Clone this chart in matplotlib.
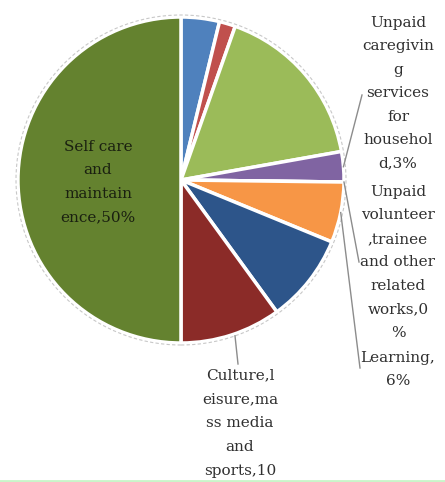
import numpy as np
import matplotlib.pyplot as plt

# time-use shares, clockwise from 12 o'clock
categories = ["Paid work", "Travel", "Household maintenance",
              "Unpaid caregiving services for household",
              "Unpaid volunteer, trainee and other related works",
              "Learning", "Social and cultural activities",
              "Culture, leisure, mass media and sports",
              "Self care and maintainence"]
values = [3.8, 1.6, 16.8, 3, 0, 6, 8.8, 10, 50]
colors = ["#4F81BD", "#C0504D", "#9BBB59", "#8064A2", "#4BACC6",
          "#F79646", "#2D558A", "#8B2B28", "#64822F"]

# data labels as they are wrapped on the chart
label_text = {
    3: "Unpaid\ncaregivin\ng\nservices\nfor\nhousehol\nd,3%",
    4: "Unpaid\nvolunteer\n,trainee\nand other\nrelated\nworks,0\n%",
    5: "Learning,\n6%",
    7: "Culture,l\neisure,ma\nss media\nand\nsports,10",
    8: "Self care\nand\nmaintain\nence,50%",
}

W, H = 445, 482
fig = plt.figure(figsize=(W / 100, H / 100), dpi=100)
ax = fig.add_axes([0, 0, 1, 1])

cx, cy, r = 181, H - 180, 163
explode = [0] * 8 + [4 / r]
wedges, _ = ax.pie(values, colors=colors, startangle=90, counterclock=False,
                   center=(cx, cy), radius=r, explode=explode,
                   wedgeprops=dict(edgecolor="white", linewidth=2.5))
ax.set_xlim(0, W)
ax.set_ylim(0, H)
ax.set_aspect("equal")
ax.axis("off")

# faint outline round the pie
ax.add_patch(plt.Circle((cx, cy), r + 2, fill=False, ec="#c8c8c8",
                        lw=0.8, ls=(0, (3, 2))))

font = dict(family="DejaVu Serif", fontsize=11, linespacing=1.86,
            ha="center", color="#303030")


def edge_point(i, frac=1.0):
    w = wedges[i]
    ang = np.deg2rad((w.theta1 + w.theta2) / 2)
    return cx + frac * r * np.cos(ang), cy + frac * r * np.sin(ang)


ax.text(98, H - 182, label_text[8], va="center",
        **{**font, "color": "#1a2010"})

ax.text(398, H - 16, label_text[3], va="top", **font)
ax.text(398, H - 185, label_text[4], va="top", **font)
ax.text(398, H - 351, label_text[5], va="top", **font)
ax.text(240, H - 368, label_text[7], va="top",
        **{**font, "linespacing": 1.9})

# leader lines from the labels to their slices
for i, (lx, ly) in {3: (362, H - 95), 4: (359, H - 262),
                    5: (360, H - 368)}.items():
    px, py = edge_point(i)
    ax.plot([lx, px], [ly, py], color="#8c8c8c", lw=1.0)
# the culture label hangs just below the rim
bx = 235
ax.plot([bx, 238], [cy - np.sqrt(r ** 2 - (bx - cx) ** 2) - 2, H - 364],
        color="#8c8c8c", lw=1.0)

fig.add_artist(plt.Line2D([0, 1], [0.002, 0.002], color="#c9f5c9", lw=2,
                          transform=fig.transFigure))
fig.savefig("out.png", dpi=100, facecolor="white")
